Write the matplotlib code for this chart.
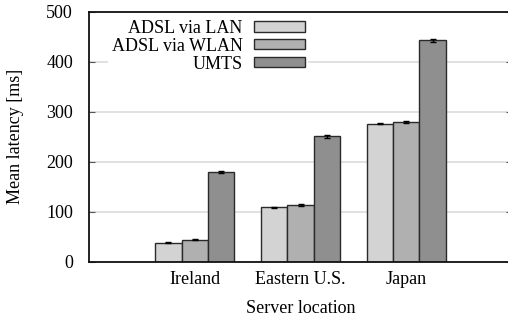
import numpy as np
import matplotlib.pyplot as plt

# mean latency per server location [ms]
locations = ['Ireland', 'Eastern U.S.', 'Japan']
series = ['ADSL via LAN', 'ADSL via WLAN', 'UMTS']
lan = [38, 109, 276]
wlan = [44, 114, 279]
umts = [179, 251, 443]
lan_err = [1, 1, 1.5]
wlan_err = [1, 2, 2]
umts_err = [1.5, 3, 3]

colors = ['#d3d3d3', '#b0b0b0', '#8f8f8f']

plt.rcParams['font.family'] = ['Liberation Serif', 'DejaVu Serif']
plt.rcParams['font.size'] = 13

fig = plt.figure(figsize=(5.08, 3.17), dpi=100)
ax = fig.add_axes([89 / 508, 55.3 / 317, 423 / 508, 250 / 317])

x = np.arange(len(locations))
width = 0.25
values = [lan, wlan, umts]
errors = [lan_err, wlan_err, umts_err]

for i, (vals, errs) in enumerate(zip(values, errors)):
    ax.bar(x + (i - 1) * width, vals, width, yerr=errs, color=colors[i],
           edgecolor='#2a2a2a', linewidth=1.0, label=series[i], zorder=2,
           error_kw=dict(ecolor='black', elinewidth=1, capsize=2, capthick=1))

ax.set_xlim(-1, 3)
ax.set_ylim(0, 500)
ax.set_xticks(x)
ax.set_xticklabels(locations)
ax.set_yticks([0, 100, 200, 300, 400, 500])

ax.set_axisbelow(True)
ax.yaxis.grid(True, color='#dcdcdc', linewidth=1.2)
ax.tick_params(axis='x', length=0, pad=6.5)
ax.tick_params(axis='y', direction='in', length=4, color='#555555',
               pad=11.5, right=True)

for side in ['top', 'bottom', 'left']:
    ax.spines[side].set_linewidth(1.3)
    ax.spines[side].set_color('#111111')
ax.spines['right'].set_visible(False)

ax.set_ylabel('Mean latency [ms]', labelpad=16)
ax.set_xlabel('Server location', labelpad=8.5)

leg = ax.legend(loc='upper left', bbox_to_anchor=(0.045, 0.982), markerfirst=False,
                frameon=True, facecolor='white', edgecolor='none', framealpha=1,
                fancybox=False, handlelength=2.8, handleheight=0.5,
                handletextpad=0.65, labelspacing=0.05, borderpad=0.2,
                borderaxespad=0)
for t in leg.get_texts():
    t.set_ha('right')
leg.set_zorder(5)

fig.savefig('out.png', dpi=100)
